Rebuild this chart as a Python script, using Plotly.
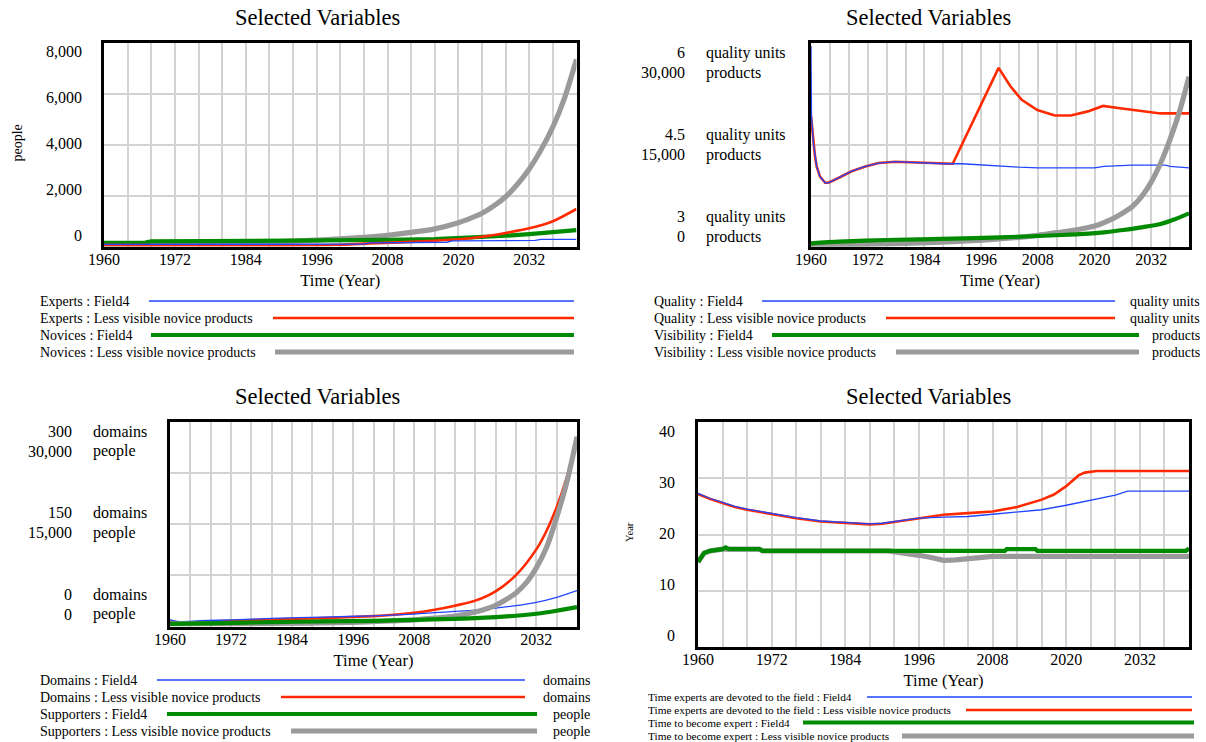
import plotly.graph_objects as go

# ---------------- data ----------------
YEARS_GRID = list(range(1960, 2041, 4))
YEAR_LABELS = ["1960", "1972", "1984", "1996", "2008", "2020", "2032"]

# Panel 1 : Experts / Novices (people)
experts_field4_year = [1960, 1990, 2004, 2005, 2016, 2018, 2019, 2033, 2034, 2040]
experts_field4 = [90, 95, 100, 150, 160, 175, 230, 245, 285, 290]
experts_less_year = [1960, 2000, 2005, 2010, 2016, 2020, 2024, 2028, 2032, 2036, 2040]
experts_less = [70, 75, 130, 170, 235, 290, 390, 540, 720, 1000, 1480]
novices_field4_year = [1960, 1967, 1968, 2000, 2008, 2016, 2020, 2024, 2028, 2032, 2036, 2040]
novices_field4 = [155, 160, 205, 225, 265, 300, 335, 370, 430, 490, 570, 650]
novices_less_year = [1960, 1980, 1990, 1996, 2000, 2004, 2008, 2012, 2016, 2020, 2022, 2024,
                     2026, 2028, 2030, 2032, 2034, 2036, 2038, 2040]
novices_less = [100, 150, 200, 260, 310, 370, 450, 560, 700, 940, 1110, 1310,
                1600, 1960, 2450, 3050, 3800, 4700, 5850, 7350]
people_ticks = [0, 2000, 4000, 6000, 8000]
people_tick_text = ["0", "2,000", "4,000", "6,000", "8,000"]

# Panel 2 : Quality (quality units) / Visibility (products)
quality_field4_year = [1960, 1960.1, 1960.5, 1960.85, 1961.2, 1961.9, 1963, 1963.7, 1965.8, 1968.6,
                       1971.5, 1974.3, 1977.8, 1981, 1984, 1988, 1992, 1996, 2000, 2004, 2008,
                       2020, 2022, 2028, 2035, 2036, 2040]
quality_field4 = [5.95, 4.94, 4.53, 4.33, 4.18, 4.03, 3.94, 3.94, 4.01, 4.11,
                  4.18, 4.23, 4.25, 4.24, 4.23, 4.22, 4.22, 4.20, 4.18, 4.17, 4.16,
                  4.16, 4.18, 4.20, 4.20, 4.18, 4.16]
quality_less_year = [1960, 1960.5, 1960.85, 1961.2, 1961.9, 1963, 1963.7, 1965.8, 1968.6, 1971.5,
                     1974.3, 1977.8, 1981, 1984, 1988, 1990, 1999.7, 2002.2, 2004.6, 2007.9,
                     2011.6, 2015, 2018.6, 2021.8, 2025, 2030, 2034, 2040]
quality_less = [4.92, 4.53, 4.33, 4.18, 4.03, 3.94, 3.94, 4.01, 4.11, 4.18,
                4.23, 4.25, 4.24, 4.23, 4.22, 4.22, 5.63, 5.36, 5.16, 5.01,
                4.93, 4.93, 4.99, 5.07, 5.04, 4.99, 4.96, 4.96]
visibility_field4_year = [1960, 1966, 1976, 1990, 2000, 2008, 2016, 2022, 2026, 2030, 2034, 2037, 2040]
visibility_field4 = [490, 735, 985, 1180, 1375, 1570, 1820, 2115, 2455, 2850, 3340, 4030, 4910]
visibility_less_year = [1960, 1970, 1980, 1990, 1997, 2004, 2008, 2012, 2016, 2020, 2024, 2026,
                        2028, 2030, 2032, 2034, 2036, 2038, 2040]
visibility_less = [250, 350, 500, 750, 1000, 1380, 1670, 2060, 2455, 3040, 4170, 4950,
                   5900, 7400, 9500, 12300, 15800, 19900, 25000]
quality_ticks = [6, 4.5, 3]
quality_tick_text = ["6", "4.5", "3"]
products_tick_text = ["30,000", "15,000", "0"]

# Panel 3 : Domains (domains) / Supporters (people)
domains_field4_year = [1960, 1961.5, 1966, 1972, 1980, 1990, 2000, 2008, 2012, 2016, 2020, 2024,
                       2028, 2032, 2036, 2040]
domains_field4 = [9.8, 7.4, 8.4, 9.8, 11.8, 13.8, 15.7, 18.2, 20.2, 22.1, 24.1, 27.0,
                  30.5, 35.4, 42.8, 52.6]
domains_less_year = [1960, 1961.5, 1966, 1972, 1980, 1990, 2000, 2004, 2008, 2012, 2016, 2020,
                     2024, 2028, 2032, 2034, 2036, 2038, 2040]
domains_less = [8.4, 4.9, 6.4, 8.4, 10.3, 12.3, 15.2, 17.2, 20.2, 24.6, 30.5, 37.9,
                51.6, 75.2, 113, 140, 175, 219, 278]
supporters_field4_year = [1960, 1970, 1980, 1990, 2000, 2008, 2016, 2020, 2024, 2028, 2032, 2036, 2040]
supporters_field4 = [393, 490, 640, 740, 836, 984, 1130, 1230, 1377, 1574, 1870, 2310, 2850]
supporters_less_year = [1960, 1980, 1996, 2004, 2008, 2012, 2016, 2020, 2024, 2026, 2028, 2030,
                        2032, 2034, 2036, 2038, 2040]
supporters_less = [393, 440, 590, 836, 984, 1230, 1525, 2115, 3100, 3920, 4920, 6390,
                   8600, 11560, 15980, 21150, 27790]
domains_ticks = [300, 150, 0]
domains_tick_text = ["300", "150", "0"]
supporters_tick_text = ["30,000", "15,000", "0"]

# Panel 4 : Time experts are devoted / Time to become expert (Year)
devoted_field4_year = [1960, 1962, 1964, 1966, 1968, 1970, 1972, 1976, 1980, 1984, 1988, 1990,
                       1992, 1996, 2000, 2004, 2008, 2012, 2016, 2020, 2024, 2028, 2030, 2040]
devoted_field4 = [27.3, 26.4, 25.7, 25.0, 24.5, 24.1, 23.7, 23.0, 22.4, 22.1, 21.9, 22.0,
                  22.3, 22.9, 23.1, 23.2, 23.6, 24.0, 24.4, 25.2, 26.1, 27.0, 27.7, 27.7]
devoted_less_year = [1960, 1962, 1964, 1966, 1968, 1970, 1972, 1976, 1980, 1984, 1988, 1990,
                     1992, 1996, 2000, 2004, 2008, 2012, 2014, 2016, 2018, 2020, 2022, 2023,
                     2025, 2040]
devoted_less = [27.2, 26.3, 25.6, 24.9, 24.4, 24.0, 23.6, 22.9, 22.3, 22.0, 21.8, 21.9,
                22.2, 22.9, 23.5, 23.8, 24.1, 24.9, 25.5, 26.2, 27.1, 28.6, 30.5, 31.0,
                31.3, 31.3]
expert_time_field4_year = [1960, 1960.5, 1961, 1962, 1964, 1964.5, 1965, 1970, 1970.5, 2010,
                           2010.3, 2015, 2015.3, 2039.5, 2040]
expert_time_field4 = [15.1, 16.0, 16.7, 17.1, 17.4, 17.7, 17.4, 17.4, 17.1, 17.1,
                      17.4, 17.4, 17.1, 17.1, 17.5]
expert_time_less_year = [1960, 1960.5, 1961, 1962, 1964, 1970, 1970.5, 1991, 1994, 1996, 1998,
                         2000, 2002, 2004, 2005, 2008, 2040]
expert_time_less = [15.1, 16.0, 16.7, 17.1, 17.4, 17.4, 17.1, 17.1, 16.7, 16.3, 15.9,
                    15.4, 15.5, 15.7, 16.0, 16.1, 16.1]
year_ticks = [0, 10, 20, 30, 40]
year_tick_text = ["0", "10", "20", "30", "40"]

# ---------------- styling ----------------
W, H = 1206, 742
FONT = "Liberation Serif"
BLUE, RED, GREEN, GREY = "#2146ff", "#ff2a00", "#008a00", "#9a9a9a"
WID = {BLUE: 1.3, RED: 2.6, GREEN: 4.2, GREY: 5.2}


def fx(p):
    return p / W


def fy(p):
    return 1 - p / H


fig = go.Figure()


def line(x, y, color, xa, ya, name, smooth=True):
    fig.add_trace(go.Scatter(
        x=x, y=y, mode="lines", name=name, showlegend=False,
        line=dict(color=color, width=WID[color],
                  shape="spline" if smooth else "linear", smoothing=0.8),
        xaxis=xa, yaxis=ya, hoverinfo="skip"))


# Panel 1
line(novices_less_year, novices_less, GREY, "x", "y", "Novices : Less visible novice products")
line(novices_field4_year, novices_field4, GREEN, "x", "y", "Novices : Field4", False)
line(experts_less_year, experts_less, RED, "x", "y", "Experts : Less visible novice products")
line(experts_field4_year, experts_field4, BLUE, "x", "y", "Experts : Field4", False)
# Panel 2
line(quality_less_year, quality_less, RED, "x2", "y2", "Quality : Less visible novice products", False)
line(quality_field4_year, quality_field4, BLUE, "x2", "y2", "Quality : Field4", False)
line(visibility_less_year, visibility_less, GREY, "x2", "y6", "Visibility : Less visible novice products")
line(visibility_field4_year, visibility_field4, GREEN, "x2", "y6", "Visibility : Field4")
# Panel 3
line(domains_less_year, domains_less, RED, "x3", "y3", "Domains : Less visible novice products")
line(domains_field4_year, domains_field4, BLUE, "x3", "y3", "Domains : Field4")
line(supporters_less_year, supporters_less, GREY, "x3", "y7", "Supporters : Less visible novice products")
line(supporters_field4_year, supporters_field4, GREEN, "x3", "y7", "Supporters : Field4")
# Panel 4
line(expert_time_less_year, expert_time_less, GREY, "x4", "y4",
     "Time to become expert : Less visible novice products", False)
line(expert_time_field4_year, expert_time_field4, GREEN, "x4", "y4",
     "Time to become expert : Field4", False)
line(devoted_less_year, devoted_less, RED, "x4", "y4",
     "Time experts are devoted to the field : Less visible novice products", False)
line(devoted_field4_year, devoted_field4, BLUE, "x4", "y4",
     "Time experts are devoted to the field : Field4", False)

# boxes (page pixel positions): left, right, top, bottom
BOX = {
    1: (104, 576.5, 42.7, 246.7),
    2: (811, 1189, 42.7, 246.7),
    3: (170, 577, 421.8, 626.5),
    4: (698, 1189, 422, 647),
}

frame = dict(showline=True, linecolor="black", linewidth=3, mirror=True, automargin=False,
             showgrid=True, gridcolor="#d3d3d3", gridwidth=1.5, zeroline=False)

xticktext = [str(y) if str(y) in YEAR_LABELS else "" for y in YEARS_GRID]
layout_axes = {}
for i in range(1, 5):
    l, r, t, b = BOX[i]
    sfx = "" if i == 1 else str(i)
    layout_axes["xaxis" + sfx] = dict(
        frame, domain=[fx(l), fx(r)], anchor="y" + sfx, range=[1960, 2040],
        tickvals=YEARS_GRID, ticktext=xticktext, ticks="", ticklabelstandoff=-4,
        tickfont=dict(size=16, color="black"),
        title=dict(text="Time (Year)", font=dict(size=16.5, color="black"), standoff=8))

grid_y = {1: [0, 2000, 4000, 6000, 8000], 2: [3, 3.75, 4.5, 5.25, 6],
          3: [0, 75, 150, 225, 300], 4: year_ticks}
rng_y = {1: [0, 8000], 2: [3, 6], 3: [0, 300], 4: [0, 40]}
for i in range(1, 5):
    l, r, t, b = BOX[i]
    sfx = "" if i == 1 else str(i)
    layout_axes["yaxis" + sfx] = dict(frame, domain=[fy(b), fy(t)], anchor="x" + sfx,
                                      range=rng_y[i], tickvals=grid_y[i], showticklabels=False)
layout_axes["yaxis6"] = dict(overlaying="y2", anchor="x2", range=[0, 30000], visible=False,
                             automargin=False)
layout_axes["yaxis7"] = dict(overlaying="y3", anchor="x3", range=[0, 30000], visible=False,
                             automargin=False)

annotations = []
shapes = []


def txt(text, xp, yp, anchor, size=16, angle=0):
    annotations.append(dict(text=text, x=fx(xp), y=fy(yp), xref="paper", yref="paper",
                            showarrow=False, xanchor=anchor, yanchor="middle", textangle=angle,
                            font=dict(size=size, color="black")))


# titles
for (cx, cy) in [(317, 18), (928, 18), (317, 396), (928, 396)]:
    txt("Selected Variables", cx, cy, "center", 22.5)

# rotated unit titles
txt("people", 17.5, 143, "center", 14, -90)
txt("Year", 629, 532, "center", 10.5, -90)


def ypos(box, v, vmin, vmax, f0, f1):
    l, r, t, b = box
    f = f0 + (v - vmin) / (vmax - vmin) * (f1 - f0)
    return b - f * (b - t)


# single-scale tick labels (Vensim draws them slightly inside the grid range)
for v, t_ in zip(people_ticks, people_tick_text):
    txt(t_, 84, ypos(BOX[1], v, 0, 8000, 0.0525, 0.957), "right")
for v, t_ in zip(year_ticks, year_tick_text):
    txt(t_, 677, ypos(BOX[4], v, 0, 40, 0.053, 0.957), "right")


# two-row tick labels for dual-scale panels
def dual_labels(box, vals, vmin, vmax, f0, f1, nums1, unit1, nums2, unit2, xnum, xunit):
    for v, n1, n2 in zip(vals, nums1, nums2):
        yp = ypos(box, v, vmin, vmax, f0, f1)
        for t_, unit, shift in [(n1, unit1, -10), (n2, unit2, 10)]:
            txt(t_, xnum, yp + shift, "right")
            txt(unit, xunit, yp + shift, "left")


dual_labels(BOX[2], quality_ticks, 3, 6, 0.099, 0.9015, quality_tick_text, "quality units",
            products_tick_text, "products", 687, 704)
dual_labels(BOX[3], domains_ticks, 0, 300, 0.108, 0.904, domains_tick_text, "domains",
            supporters_tick_text, "people", 74, 91)


# legends
def legend(rows, x_text, size, x_units=None):
    for (label, color, yp, x0, x1, unit) in rows:
        txt(label, x_text, yp, "left", size)
        shapes.append(dict(type="line", xref="paper", yref="paper", x0=fx(x0), x1=fx(x1),
                           y0=fy(yp), y1=fy(yp), line=dict(color=color, width=WID[color])))
        if unit:
            txt(unit, x_units, yp, "right", size)


legend([
    ("Experts : Field4", BLUE, 301, 149, 574, None),
    ("Experts : Less visible novice products", RED, 318, 273, 574, None),
    ("Novices : Field4", GREEN, 335, 151, 574, None),
    ("Novices : Less visible novice products", GREY, 352, 275, 574, None),
], 38, 14)
legend([
    ("Quality : Field4", BLUE, 301, 762, 1115, "quality units"),
    ("Quality : Less visible novice products", RED, 318, 886, 1115, "quality units"),
    ("Visibility : Field4", GREEN, 335, 772, 1139, "products"),
    ("Visibility : Less visible novice products", GREY, 352, 896, 1139, "products"),
], 652, 14, 1202)
legend([
    ("Domains : Field4", BLUE, 680, 157, 525, "domains"),
    ("Domains : Less visible novice products", RED, 697, 281, 525, "domains"),
    ("Supporters : Field4", GREEN, 714, 167, 537, "people"),
    ("Supporters : Less visible novice products", GREY, 731, 291, 537, "people"),
], 38, 14, 592)
legend([
    ("Time experts are devoted to the field : Field4", BLUE, 697, 867, 1192, None),
    ("Time experts are devoted to the field : Less visible novice products", RED, 710, 966, 1192, None),
    ("Time to become expert : Field4", GREEN, 722.5, 803, 1194, None),
    ("Time to become expert : Less visible novice products", GREY, 736, 902, 1194, None),
], 646, 11.3)

fig.update_layout(
    template="none",
    width=W, height=H, margin=dict(l=0, r=0, t=0, b=0, pad=0), autosize=False,
    paper_bgcolor="white", plot_bgcolor="white",
    font=dict(family=FONT, color="black"),
    showlegend=False, annotations=annotations, shapes=shapes,
    **layout_axes,
)

fig.write_html("out.html",
               config={"displayModeBar": False},
               post_script="document.body.style.margin='0';document.body.style.overflow='hidden';")
